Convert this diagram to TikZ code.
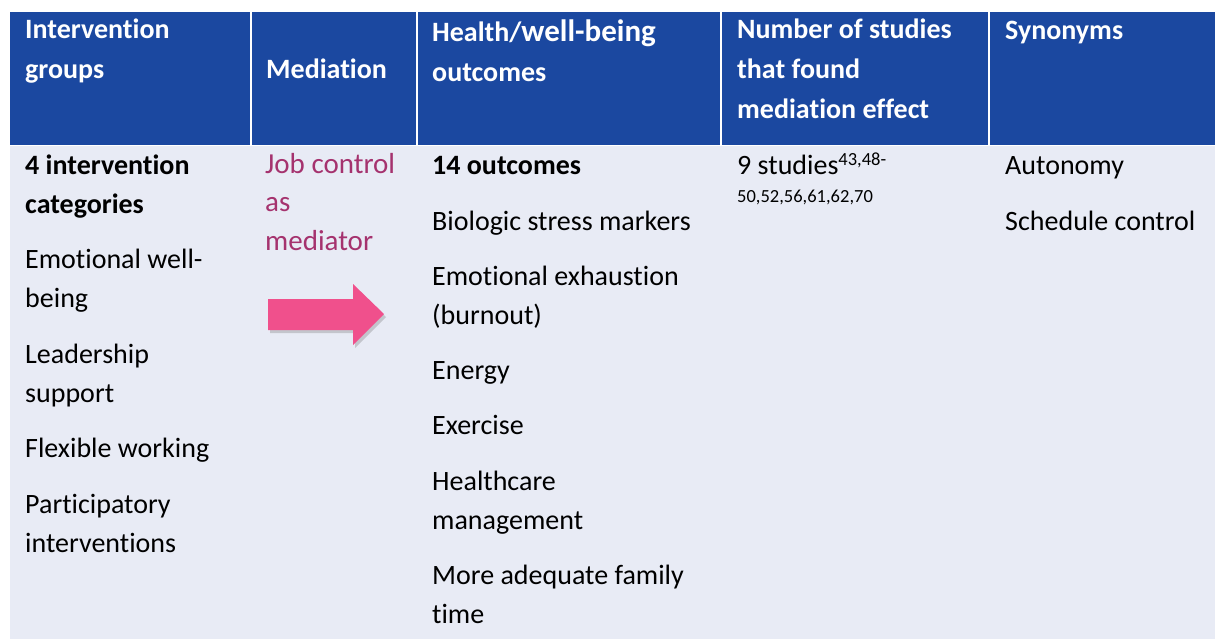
\documentclass[tikz,border=0pt]{standalone}
\usepackage{fontspec}
\setmainfont[Ligatures=NoCommon]{Carlito}
\usetikzlibrary{shadows}
\definecolor{hdrblue}{RGB}{27,72,160}
\definecolor{bodybg}{RGB}{232,235,245}
\definecolor{arrowpink}{RGB}{240,80,140}
\definecolor{medtext}{RGB}{165,50,110}
\begin{document}
\begin{tikzpicture}[x=1pt,y=-1pt,
  hdr/.style={anchor=base west, inner sep=0pt, text=white, align=left,
    font=\fontsize{28}{40}\selectfont\bfseries},
  cell/.style={anchor=base west, inner sep=0pt, text=black, align=left,
    font=\fontsize{28}{39}\selectfont},
  boldcell/.style={cell, font=\fontsize{28}{39}\selectfont\bfseries},
  medcell/.style={anchor=base west, inner sep=0pt, text=medtext, align=left,
    font=\fontsize{29}{38.5}\selectfont},
  sep/.style={draw=white, line width=2pt}]
\useasboundingbox (0,0) rectangle (1215,639);
% backgrounds (node positions below are the baselines of each text's last line)
\fill[white] (0,0) rectangle (1215,639);
\fill[hdrblue] (10,12) rectangle (1215,145.5);
\fill[bodybg] (10,146.5) rectangle (1215,639);
\foreach \xx in {251,416.5,721,989} \draw[sep] (\xx,12) -- (\xx,146);
% header
\node[hdr] (h1) at (25,79) {Intervention\\groups};
\node[hdr] (h2) at (266,79) {Mediation};
\node[hdr] (h3) at (432,82) {Health/{\fontsize{31}{40}\selectfont well-being}\\outcomes};
\node[hdr] (h4) at (737,119) {Number of studies\\that found\\mediation effect};
\node[hdr] (h5) at (1005,40) {Synonyms};
% column 1
\node[boldcell] (c1a) at (25,214) {4 intervention\\categories};
\node[cell] (c1b) at (25,307) {Emotional well-\\being};
\node[cell] (c1c) at (25,402) {Leadership\\support};
\node[cell] (c1d) at (25,457) {Flexible working};
\node[cell] (c1e) at (25,552) {Participatory\\interventions};
% column 2
\node[medcell] (c2) at (265,250) {Job control\\as\\mediator};
\fill[arrowpink, drop shadow={shadow xshift=2pt, shadow yshift=-3pt, opacity=0.35, fill=gray}]
  (268,299) -- (353,299) -- (353,284) -- (384,314) -- (353,345) -- (353,330) -- (268,330) -- cycle;
% column 3
\node[boldcell] (c3a) at (432,175) {14 outcomes};
\node[cell] (c3b) at (432,230) {Biologic stress markers};
\node[cell] (c3c) at (432,324) {Emotional exhaustion\\(burnout)};
\node[cell] (c3d) at (432,379) {Energy};
\node[cell] (c3e) at (432,434) {Exercise};
\node[cell] (c3f) at (432,529) {Healthcare\\management};
\node[cell] (c3g) at (432,623) {More adequate family\\time};
% column 4
\node[cell] (c4a) at (737,175) {9 studies\raisebox{9pt}{\fontsize{18.5}{20}\selectfont 43,48-}};
\node[cell, font=\fontsize{18.5}{20}\selectfont] (c4b) at (737,203) {50,52,56,61,62,70};
% column 5
\node[cell] (c5a) at (1005,175) {Autonomy};
\node[cell] (c5b) at (1005,230) {Schedule control};
\end{tikzpicture}
\end{document}
